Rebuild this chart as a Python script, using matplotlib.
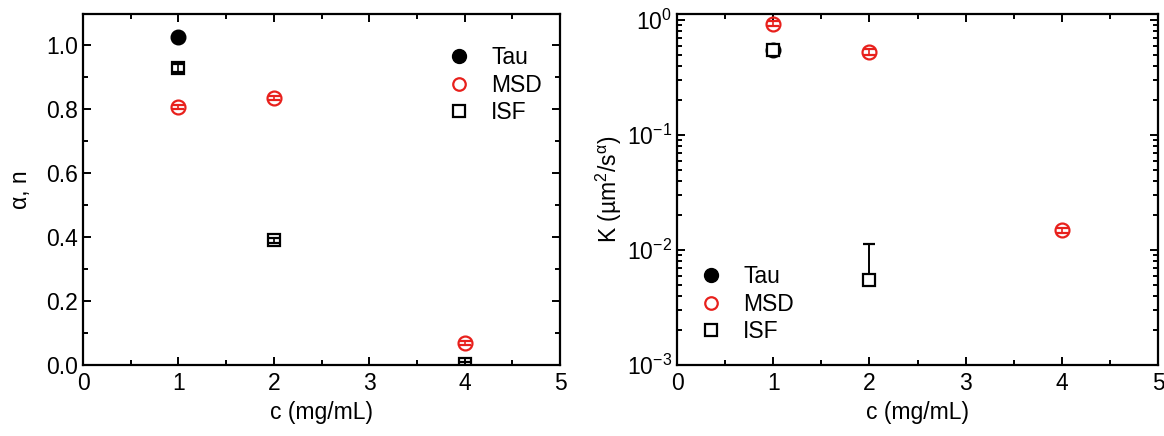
import matplotlib
matplotlib.use("Agg")
import matplotlib.pyplot as plt
from matplotlib.ticker import MultipleLocator, LogLocator, NullFormatter, FormatStrFormatter
from matplotlib.lines import Line2D

plt.rcParams['font.family'] = ['Liberation Sans', 'DejaVu Sans']
plt.rcParams['mathtext.fontset'] = 'custom'
plt.rcParams['mathtext.rm'] = 'Liberation Sans'
plt.rcParams['mathtext.it'] = 'Liberation Sans'
plt.rcParams['mathtext.sf'] = 'Liberation Sans'

# ---- data: exponent (alpha, n) ----
c_tau = [1]
exp_tau = [1.025]
exp_tau_err = [0.0]

c_msd = [1, 2, 4]
exp_msd = [0.806, 0.834, 0.069]
exp_msd_err = [0.006, 0.006, 0.006]

c_isf = [1, 2, 4]
exp_isf = [0.928, 0.390, 0.003]
exp_isf_err = [0.012, 0.008, 0.006]

# ---- data: K ----
K_tau = [0.55]
K_msd = [0.93, 0.53, 0.0149]
K_msd_err = [0.05, 0.03, 0.0008]
K_isf_c = [1, 2]
K_isf = [0.55, 0.0055]
K_isf_err_lo = [0.04, 0.0]
K_isf_err_hi = [0.04, 0.0058]

fig = plt.figure(figsize=(11.64, 4.36), dpi=100)
ax1 = fig.add_axes([83/1164, 1-365/436, (560-83)/1164, (365-14)/436])
ax2 = fig.add_axes([677/1164, 1-365/436, (1158-677)/1164, (365-14)/436])

red = '#e8201c'
fs = 16.5

def style(ax):
    for s in ax.spines.values():
        s.set_linewidth(1.6)
    ax.tick_params(which='both', direction='in', top=True, right=True, width=1.4,
                   labelsize=fs, colors='black')
    ax.tick_params(which='major', length=6)
    ax.tick_params(which='minor', length=3.5)
    ax.tick_params(axis='x', pad=5)
    ax.set_xlim(0, 5)
    ax.xaxis.set_major_locator(MultipleLocator(1))
    ax.xaxis.set_minor_locator(MultipleLocator(0.5))
    ax.set_xlabel('c (mg/mL)', fontsize=fs, labelpad=4)

# left
ax1.errorbar(c_tau, exp_tau, yerr=exp_tau_err, fmt='o', color='black', ms=10.5,
             capsize=4, elinewidth=1.2, zorder=3)
ax1.errorbar(c_msd, exp_msd, yerr=exp_msd_err, fmt='o', color=red, mfc='none', mec=red,
             mew=1.6, ms=10, capsize=4, elinewidth=1.2, zorder=3)
ax1.errorbar(c_isf, exp_isf, yerr=exp_isf_err, fmt='s', color='black', mfc='none',
             mew=1.6, ms=8.5, capsize=4, elinewidth=1.2, zorder=3)
style(ax1)
ax1.set_ylim(0, 1.097)
ax1.yaxis.set_major_locator(MultipleLocator(0.2))
ax1.yaxis.set_minor_locator(MultipleLocator(0.1))
ax1.yaxis.set_major_formatter(FormatStrFormatter('%.1f'))
ax1.set_ylabel('α, n', fontsize=fs, labelpad=10)

def legend_handles():
    return [Line2D([], [], marker='o', ls='none', color='black', ms=10),
            Line2D([], [], marker='o', ls='none', color=red, mfc='none', mew=1.6, ms=9),
            Line2D([], [], marker='s', ls='none', color='black', mfc='none', mew=1.6, ms=8)]

ax1.legend(legend_handles(), ['Tau', 'MSD', 'ISF'], loc='upper left', frameon=False,
           fontsize=fs, handletextpad=0.9, bbox_to_anchor=(0.745, 0.935),
           labelspacing=0.2, handlelength=1.0, borderaxespad=0)

# right
ax2.set_yscale('log')
ax2.plot(c_tau, K_tau, 'o', color='black', ms=10.5, zorder=2)
ax2.errorbar(c_msd, K_msd, yerr=K_msd_err, fmt='o', color=red, mfc='none', mec=red,
             mew=1.6, ms=10, capsize=4, elinewidth=1.2, zorder=3)
ax2.errorbar(K_isf_c, K_isf, yerr=[K_isf_err_lo, K_isf_err_hi], fmt='s', color='black',
             mfc='white', mew=1.6, ms=8.5, capsize=4, elinewidth=1.4, zorder=3)
style(ax2)
ax2.set_ylim(1e-3, 1.13)
ax2.yaxis.set_major_locator(LogLocator(base=10, numticks=10))
ax2.yaxis.set_minor_locator(LogLocator(base=10, subs=range(2, 10), numticks=20))
ax2.yaxis.set_minor_formatter(NullFormatter())
ax2.set_ylabel('K (µm$^2$/s$^{α}$)', fontsize=fs, labelpad=2)
ax2.legend(legend_handles(), ['Tau', 'MSD', 'ISF'], loc='lower left', frameon=False,
           fontsize=fs, handletextpad=0.9, bbox_to_anchor=(0.028, 0.036),
           labelspacing=0.2, handlelength=1.0, borderaxespad=0)

fig.savefig('out.png', dpi=100)
